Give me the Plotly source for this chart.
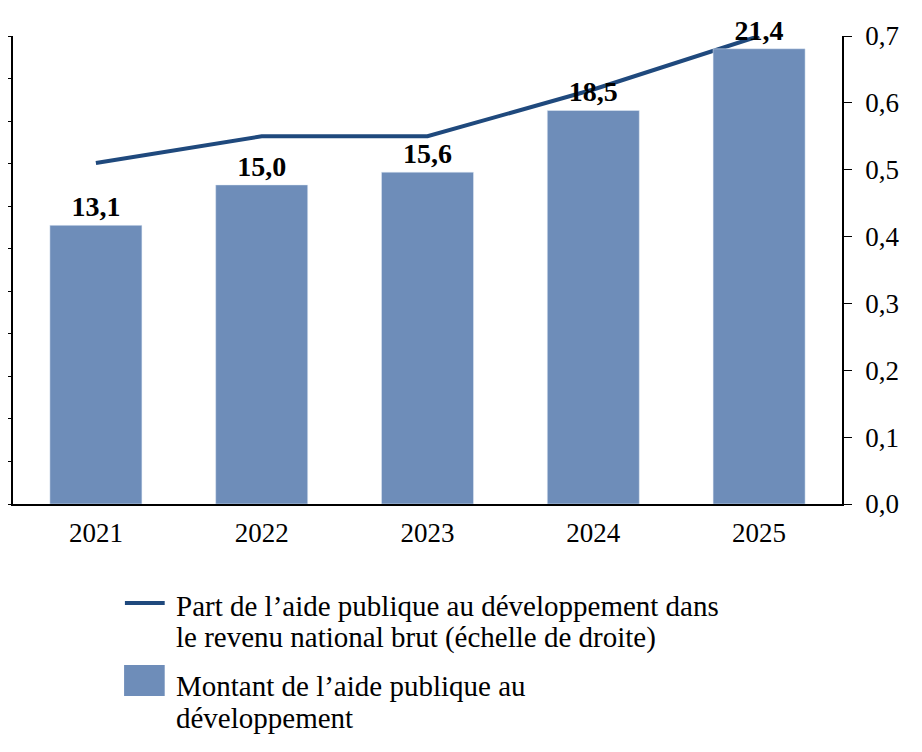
import plotly.graph_objects as go

years = ['2021', '2022', '2023', '2024', '2025']
montant_apd = [13.1, 15.0, 15.6, 18.5, 21.4]
part_rnb = [0.51, 0.55, 0.55, 0.62, 0.70]

bar_labels = [f'{v:.1f}'.replace('.', ',') for v in montant_apd]

legend_line_text = ['Part de l’aide publique au développement dans',
                    'le revenu national brut (échelle de droite)']
legend_bar_text = ['Montant de l’aide publique au',
                   'développement']

bar_color = 'rgb(110, 141, 185)'
line_color = 'rgb(31, 73, 125)'
font_family = 'Liberation Serif'

fig = go.Figure()

fig.add_trace(go.Scatter(
    x = years,
    y = part_rnb,
    mode = 'lines',
    line = dict(color = line_color, width = 4),
    name = ' '.join(legend_line_text),
    yaxis = 'y'))

fig.add_trace(go.Bar(
    x = years,
    y = montant_apd,
    marker_color = bar_color,
    text = bar_labels,
    textposition = 'outside',
    constraintext = 'none',
    textfont = dict(size = 28, color = 'black', family = font_family, weight = 'bold'),
    cliponaxis = False,
    name = ' '.join(legend_bar_text),
    yaxis = 'y2'))

# legend drawn by hand below the plot (paper coords), to get the big symbols
fig.add_shape(type = 'line', xref = 'paper', yref = 'paper',
              x0 = 0.135, x1 = 0.183, y0 = -0.2115, y1 = -0.2115,
              line = dict(color = line_color, width = 4))
fig.add_shape(type = 'rect', xref = 'paper', yref = 'paper',
              x0 = 0.134, x1 = 0.183, y0 = -0.410, y1 = -0.344,
              fillcolor = bar_color, line_width = 0)

legend_rows = [(legend_line_text[0], -0.218), (legend_line_text[1], -0.286),
               (legend_bar_text[0], -0.389), (legend_bar_text[1], -0.457)]
for txt, ypos in legend_rows:
    fig.add_annotation(text = txt, xref = 'paper', yref = 'paper',
                       x = 0.194, y = ypos, xanchor = 'left', yanchor = 'middle',
                       showarrow = False, font = dict(size = 29, family = font_family))

# the page adds an 8px body margin, so the margins are shifted by it
fig.update_layout(
    width = 914,
    height = 744,
    margin = dict(l = 5, r = 80, t = 28, b = 248),
    plot_bgcolor = 'white',
    paper_bgcolor = 'white',
    font = dict(family = font_family, size = 27, color = 'black'),
    separators = ', ',
    bargap = 0.445,
    showlegend = False,
    xaxis = dict(
        automargin = False,
        showline = True, linecolor = 'black', linewidth = 2,
        ticks = '', showgrid = False, ticklabelstandoff = 4,
        tickfont = dict(size = 27, family = font_family)),
    yaxis = dict(
        automargin = False,
        side = 'right',
        range = [0, 0.7], dtick = 0.1, tickformat = '.1f',
        showline = True, linecolor = 'black', linewidth = 1.5,
        ticks = 'outside', ticklen = 8, tickcolor = 'black',
        ticklabelstandoff = 8,
        showgrid = False, zeroline = False,
        tickfont = dict(size = 27, family = font_family)),
    yaxis2 = dict(
        automargin = False,
        overlaying = 'y', side = 'left',
        range = [0, 22], dtick = 2,
        showline = True, linecolor = 'black', linewidth = 1.5,
        ticks = 'outside', ticklen = 10, tickcolor = 'black',
        showticklabels = False,
        showgrid = False, zeroline = False))

fig.write_html('out.html')
